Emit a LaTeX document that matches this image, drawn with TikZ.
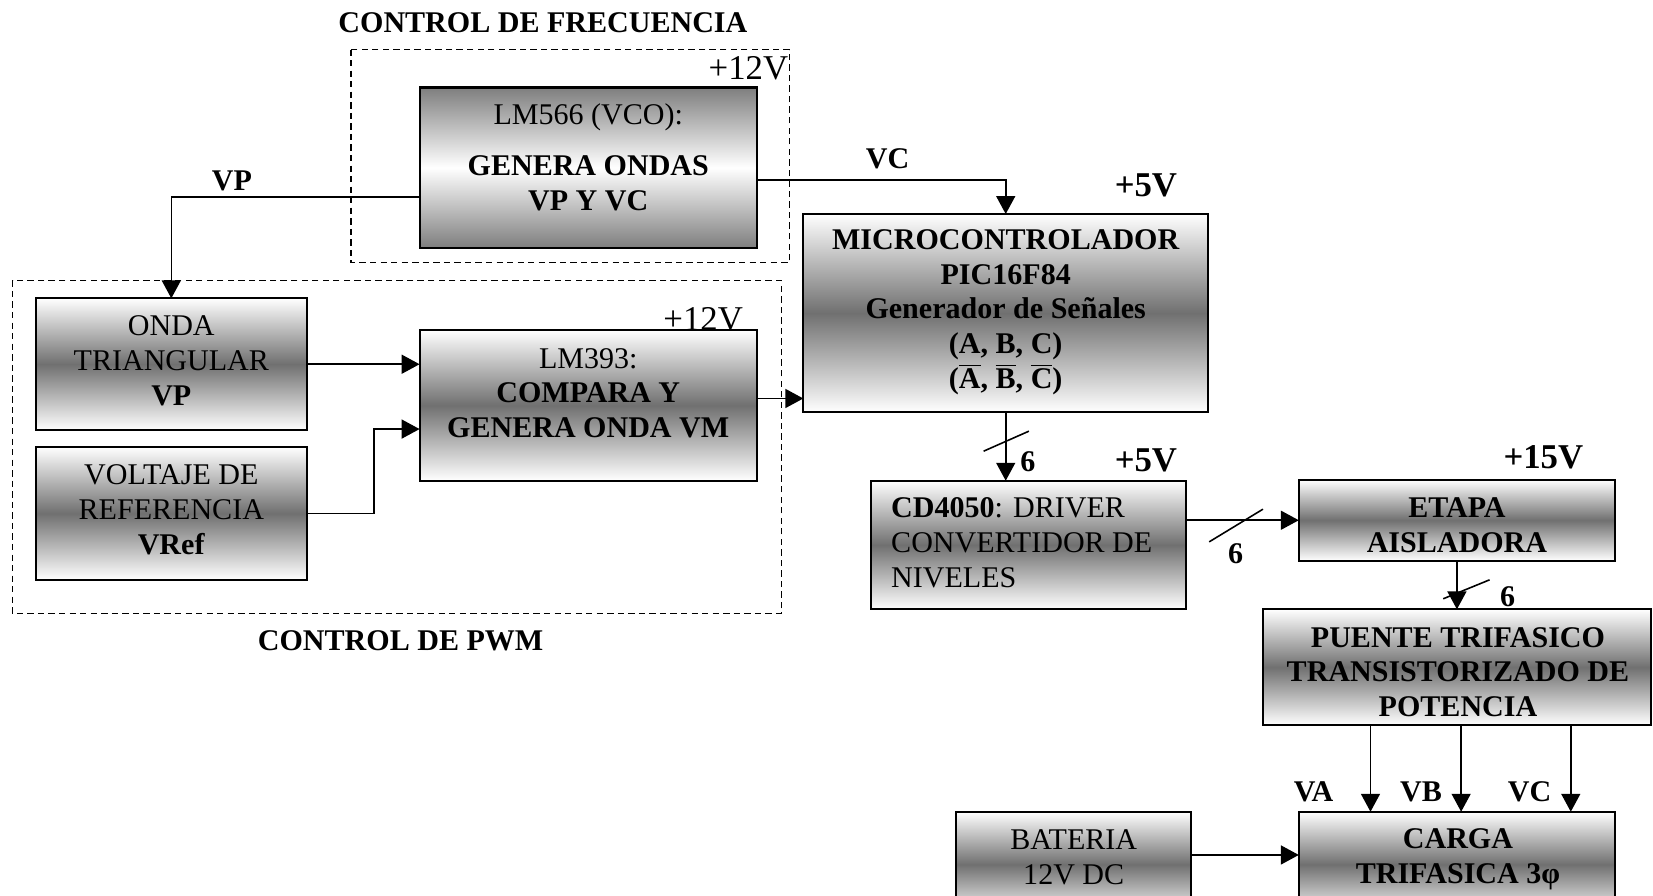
\documentclass[tikz,border=0pt]{standalone}
\usepackage{fontspec}
\setmainfont{Liberation Serif}
\usetikzlibrary{arrows.meta,calc}
\definecolor{boxmid}{RGB}{112,112,112}
\tikzset{
  box/.style={draw, line width=1pt, inner sep=0pt, outer sep=0pt,
    top color=white, bottom color=white, middle color=boxmid},
  boxinv/.style={draw, line width=1pt, inner sep=0pt, outer sep=0pt,
    top color=boxmid!90, bottom color=boxmid!90, middle color=white},
  txt/.style={align=center, inner sep=0pt, font=\fontsize{14.25}{16.5}\selectfont},
  btxt/.style={txt, font=\fontsize{14.25}{16.5}\selectfont\bfseries},
  volt/.style={inner sep=0pt, font=\fontsize{16.5}{18}\selectfont},
  bvolt/.style={inner sep=0pt, font=\fontsize{16.5}{18}\selectfont\bfseries},
  arr/.style={line width=0.75pt, -{Triangle[length=8.5pt,width=9pt]}},
  wire/.style={line width=0.75pt},
  dashbox/.style={line width=0.6pt, dash pattern=on 3pt off 2pt},
  slash/.style={line width=0.75pt}
}
\begin{document}
\begin{tikzpicture}[x=0.5pt,y=-0.5pt]
\clip (0,0) rectangle (1568,849);
\fill[white] (0,0) rectangle (1568,849);

% dashed groups
\draw[dashbox] (333,47) rectangle (749,249);
\draw[dashbox] (12,266) rectangle (741,582);
\node[btxt] (tfreq) at (515,22) {CONTROL DE FRECUENCIA};
\node[btxt] (tpwm) at (380,608) {CONTROL DE PWM};

% boxes
\node[boxinv, minimum width=160pt, minimum height=76pt] (lm566) at (558,159) {};
\node[box, minimum width=128.5pt, minimum height=62.5pt] (onda) at (162.5,345.5) {};
\node[box, minimum width=128.5pt, minimum height=63pt] (vref) at (162.5,487) {};
\node[box, minimum width=160pt, minimum height=71.5pt] (lm393) at (558,384.5) {};
\node[box, minimum width=192pt, minimum height=94pt] (micro) at (954,297) {};
\node[box, minimum width=149.5pt, minimum height=61pt] (cd) at (975.5,517) {};
\node[box, minimum width=150pt, minimum height=38.5pt] (etapa) at (1382,493.5) {};
\node[box, minimum width=184pt, minimum height=55pt] (puente) at (1382,633) {};
\node[box, minimum width=150pt, minimum height=50pt] (carga) at (1382,820) {};
\node[box, minimum width=111.5pt, minimum height=50pt] (bat) at (1018.5,820) {};

% texts
\node[txt] (lm566t) at (558,149) {LM566 (VCO):\\[8pt]\textbf{GENERA ONDAS}\\\textbf{VP Y VC}};
\node[txt] (ondat) at (162.5,342) {ONDA\\TRIANGULAR\\\textbf{VP}};
\node[txt] (vreft) at (162.5,483.5) {VOLTAJE DE\\REFERENCIA\\\textbf{VRef}};
\node[txt] (lm393t) at (558,373) {LM393:\\\textbf{COMPARA Y}\\\textbf{GENERA ONDA VM}};
\node[btxt] (microt) at (954,296) {MICROCONTROLADOR\\PIC16F84\\Generador de Señales\\(A, B, C)\\($\overline{\mbox{A}}$, $\overline{\mbox{B}}$, $\overline{\mbox{C}}$)};
\node[txt, align=left, anchor=west] (cdt) at (845,515) {\textbf{CD4050}: DRIVER\\CONVERTIDOR DE\\NIVELES};
\node[btxt] (etapat) at (1382,498.5) {ETAPA\\AISLADORA};
\node[btxt] (puentet) at (1383,637.5) {PUENTE TRIFASICO\\TRANSISTORIZADO DE\\POTENCIA};
\node[btxt] (cargat) at (1383,815) {CARGA\\TRIFASICA 3φ};
\node[txt] (batt) at (1018.5,813) {BATERIA\\12V DC};

% supply labels
\node[volt] (v12a) at (710,65) {+12V};
\node[volt] (v12b) at (667,303) {+12V};
\node[bvolt] (v5a) at (1087,176) {+5V};
\node[bvolt] (v5b) at (1087,437) {+5V};
\node[bvolt] (v15) at (1464,434) {+15V};

% signal labels
\node[btxt] (lvp) at (220,172) {VP};
\node[btxt] (lvc) at (842,151) {VC};
\node[btxt] (n6a) at (975,438) {6};
\node[btxt] (n6b) at (1172,525) {6};
\node[btxt] (n6c) at (1430,566) {6};
\node[btxt] (lva) at (1246,751) {VA};
\node[btxt] (lvb) at (1348,751) {VB};
\node[btxt] (lvc2) at (1451,751) {VC};

% connectors
\draw[arr] ($(lm566.west)+(0,28)$) -| (onda.north);
\draw[arr] ($(lm566.east)+(0,12)$) -| (micro.north);
\draw[arr] (onda.east) -- (onda.east -| lm393.west);
\draw[arr] (vref.east) -| (355,407) -- (lm393.west |- 0,407);
\draw[arr] (lm393.east |- 0,378) -- (micro.west |- 0,378);
\draw[arr] (micro.south) -- (micro.south |- cd.north);
\draw[arr] (cd.east |- etapa.west) -- (etapa.west);
\draw[arr] (etapa.south) -- (puente.north);
\draw[arr] (puente.south -| 1300,0) -- (carga.north -| 1300,0);
\draw[arr] (puente.south -| 1386,0) -- (carga.north -| 1386,0);
\draw[arr] (puente.south -| 1490,0) -- (carga.north -| 1490,0);
\draw[arr] ($(bat.east)+(0,-9)$) -- ($(carga.west)+(0,-9)$);

% bus slashes
\draw[slash] (933,428) -- (976,409);
\draw[slash] (1147,514) -- (1198,483);
\draw[slash] (1369,568) -- (1413,550);
\end{tikzpicture}
\end{document}
